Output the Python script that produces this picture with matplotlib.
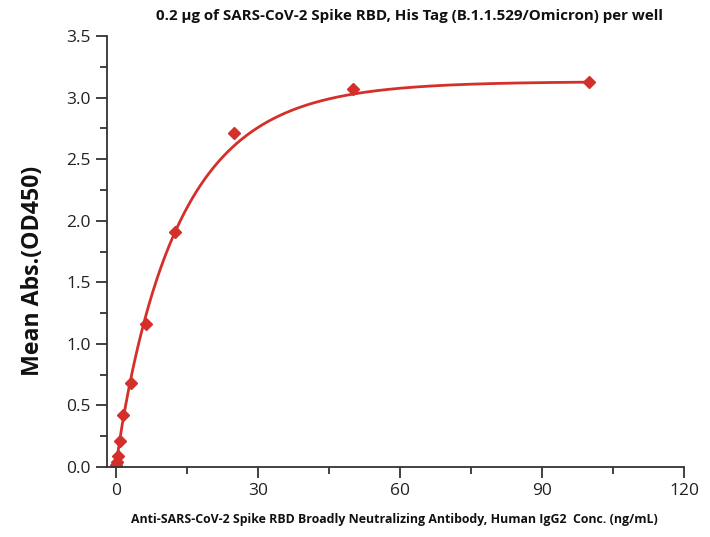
import numpy as np
import matplotlib
matplotlib.use("Agg")
import matplotlib.pyplot as plt
from matplotlib.ticker import MultipleLocator

conc = [100, 50, 25, 12.5, 6.25, 3.125, 1.5625, 0.78125, 0.390625, 0.1953125, 0.09765625]
od = [3.13, 3.07, 2.71, 1.91, 1.16, 0.68, 0.42, 0.21, 0.09, 0.04, 0.02]

# fitted curve parameters
fit_top = 3.13
fit_k = 0.09
fit_p = 0.93

title = "0.2 µg of SARS-CoV-2 Spike RBD, His Tag (B.1.1.529/Omicron) per well"
xlabel = "Anti-SARS-CoV-2 Spike RBD Broadly Neutralizing Antibody, Human IgG2  Conc. (ng/mL)"
ylabel = "Mean Abs.(OD450)"

x = np.array(conc)
y = np.array(od)
xs = np.linspace(0.0, max(conc), 600)
ys = fit_top * (1 - np.exp(-fit_k * xs ** fit_p))

red = "#d4302b"
fig = plt.figure(figsize=(7.10, 5.37), dpi=100)
ax = fig.add_axes([107/710, 1-467/537, (684-107)/710, (467-36)/537])
ax.plot(xs, ys, color=red, lw=2)
ax.plot(x, y, "D", color=red, ms=6.5, mec=red)

ax.set_xlim(-1.9, 120)
ax.set_ylim(0, 3.5)
ax.xaxis.set_major_locator(MultipleLocator(30))
ax.xaxis.set_minor_locator(MultipleLocator(15))
ax.yaxis.set_major_locator(MultipleLocator(0.5))
ax.yaxis.set_minor_locator(MultipleLocator(0.25))
ax.yaxis.set_major_formatter(matplotlib.ticker.FormatStrFormatter("%.1f"))
for s in ["top", "right"]:
    ax.spines[s].set_visible(False)
for s in ["left", "bottom"]:
    ax.spines[s].set_color("#333333")
    ax.spines[s].set_linewidth(1.3)
ax.tick_params(which="major", length=8, width=1.3, color="#333333", labelsize=12.5,
               labelcolor="#222222", direction="out")
ax.tick_params(which="minor", length=5, width=1.3, color="#333333", direction="out")
for lab in ax.get_xticklabels() + ax.get_yticklabels():
    lab.set_family("Open Sans")

fig.text(410/710, 1-16/537, title, ha="center", va="center", fontsize=10.9,
         fontweight="bold", family="Open Sans", color="#111111")
fig.text(394/710, 1-519/537, xlabel, ha="center", va="center", fontsize=8.9,
         fontweight="bold", family="Open Sans", color="#111111")
fig.text(33/710, 1-271/537, ylabel, ha="center", va="center", rotation=90,
         fontsize=16.7, fontweight="bold", family="Open Sans", color="#111111")

fig.savefig("out.png", dpi=100)
